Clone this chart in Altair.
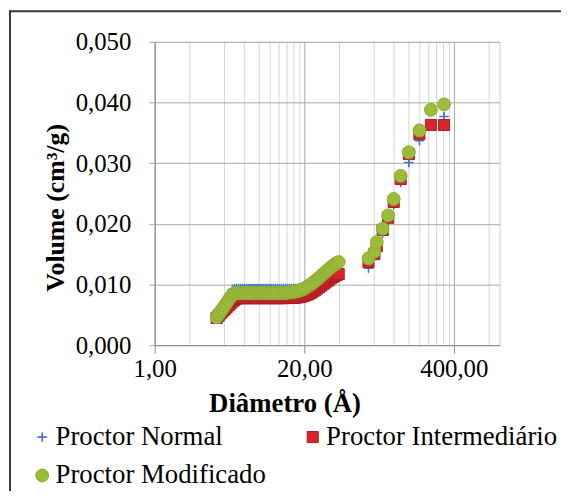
import altair as alt
import pandas as pd

SERIF = "Liberation Serif"

series_names = ["Proctor Normal", "Proctor Intermediário", "Proctor Modificado"]
series_colors = ["#4472C4", "#D7262B", "#9BBB3A"]
series_strokes = ["#4472C4", "#A81E22", "#8DAE35"]

# dense low-diameter region (diameter in Å)
band_diam = [3.461, 3.600, 3.745, 3.896, 4.053, 4.216, 4.385, 4.561, 4.745, 4.935,
             5.134, 5.340, 5.555, 5.779, 6.011, 6.253, 6.505, 6.766, 7.038, 7.321,
             7.616, 7.922, 8.241, 8.572, 8.917, 9.276, 9.649, 10.037, 10.441, 10.861,
             11.298, 11.752, 12.225, 12.717, 13.228, 13.760, 14.314, 14.890, 15.488,
             16.111, 16.759, 17.434, 18.135, 18.864, 19.623, 20.413, 21.234, 22.088,
             22.976, 23.900, 24.842, 25.842, 26.881, 27.963, 29.088, 30.257, 31.474,
             32.740, 34.056, 35.425, 36.850, 38.332, 39.874]
normal_band = [0.00474, 0.00529, 0.00584, 0.00641, 0.00700, 0.00758, 0.00815, 0.00868,
               0.00918, 0.00930, 0.00932,
               0.00932, 0.00932, 0.00932, 0.00932, 0.00932, 0.00932, 0.00932, 0.00932,
               0.00932, 0.00932, 0.00932, 0.00932, 0.00932, 0.00932, 0.00932, 0.00932,
               0.00932, 0.00932, 0.00932, 0.00932, 0.00932, 0.00932, 0.00932, 0.00932,
               0.00932,
               0.00932, 0.00932, 0.00932, 0.00932, 0.00934, 0.00938, 0.00943, 0.00949,
               0.00955, 0.00964, 0.00974, 0.00988, 0.01005, 0.01025, 0.01046, 0.01070,
               0.01095, 0.01123, 0.01152, 0.01180, 0.01209, 0.01238, 0.01266, 0.01290,
               0.01315, 0.01330, 0.01342]
inter_band = [0.00449, 0.00486, 0.00523, 0.00556, 0.00588, 0.00621, 0.00654, 0.00686,
              0.00719, 0.00745, 0.00768,
              0.00776, 0.00776, 0.00776, 0.00776, 0.00776, 0.00776, 0.00776, 0.00776,
              0.00776, 0.00776, 0.00776, 0.00776, 0.00776, 0.00776, 0.00776, 0.00776,
              0.00776, 0.00776, 0.00776, 0.00776, 0.00776, 0.00776, 0.00776, 0.00776,
              0.00776,
              0.00784, 0.00784, 0.00784, 0.00784, 0.00784, 0.00788, 0.00792, 0.00800,
              0.00809, 0.00820, 0.00833, 0.00849, 0.00866, 0.00886, 0.00907, 0.00931,
              0.00956, 0.00980, 0.01005, 0.01029, 0.01054, 0.01078, 0.01103, 0.01124,
              0.01144, 0.01160, 0.01172]
modif_band = [0.00458, 0.00505, 0.00552, 0.00599, 0.00646, 0.00693, 0.00740, 0.00787,
              0.00833, 0.00852, 0.00858,
              0.00858, 0.00858, 0.00858, 0.00858, 0.00858, 0.00858, 0.00858, 0.00858,
              0.00858, 0.00858, 0.00858, 0.00858, 0.00858, 0.00858, 0.00858, 0.00858,
              0.00858, 0.00858, 0.00858, 0.00858, 0.00858, 0.00858, 0.00858, 0.00858,
              0.00858,
              0.00866, 0.00870, 0.00874, 0.00878, 0.00882, 0.00890, 0.00899, 0.00910,
              0.00923, 0.00942, 0.00964, 0.00984, 0.01005, 0.01029, 0.01054, 0.01082,
              0.01111, 0.01139, 0.01168, 0.01196, 0.01225, 0.01254, 0.01283, 0.01308,
              0.01332, 0.01352, 0.01370]

# sparse large-diameter points
cluster_diam = [72.4, 81.5, 85.5, 96.2, 107.4, 120.0, 138.0, 162.6, 200.7, 252.6, 328.6]
normal_cluster = [0.0127, 0.0146, 0.0159, 0.0184, 0.0205, 0.0231, 0.0268, 0.0301, 0.0337, 0.0362, 0.0377]
inter_cluster = [0.0137, 0.0150, 0.0163, 0.0190, 0.0210, 0.0236, 0.0274, 0.0315, 0.0348, 0.0363, 0.0363]
modif_cluster = [0.0143, 0.0154, 0.0170, 0.0192, 0.0214, 0.0241, 0.0279, 0.0318, 0.0354, 0.0388, 0.0397]

x_major = [1, 20, 400]
x_grid = [1, 2, 4, 6, 8, 10, 12, 14, 16, 18, 20, 40, 80, 120, 160, 200, 240, 280,
          320, 360, 400, 800]
y_ticks = [0.0, 0.01, 0.02, 0.03, 0.04, 0.05]

rows = []
for name, band, clus in [(series_names[0], normal_band, normal_cluster),
                         (series_names[1], inter_band, inter_cluster),
                         (series_names[2], modif_band, modif_cluster)]:
    for d, v in zip(band_diam, band):
        rows.append({"serie": name, "d": d, "v": v})
    for d, v in zip(cluster_diam, clus):
        rows.append({"serie": name, "d": d, "v": v})
df = pd.DataFrame(rows)
df["ord"] = range(len(df))

PLUS = "M-1,-0.06H-0.06V-1H0.06V-0.06H1V0.06H0.06V1H-0.06V0.06H-1Z"

W, H = 348, 306
major_test = " || ".join(f"datum.value == {m}" for m in x_major)

x_axis = alt.Axis(
    values=x_grid,
    labelExpr=f"({major_test}) ? replace(format(datum.value, '.2f'), '.', ',') : ''",
    labelOverlap=False, labelFlush=False,
    labelFont=SERIF, labelFontSize=25, labelColor="black", labelPadding=4,
    tickSize=8, tickColor="#8c8c8c",
    tickOpacity={"condition": {"test": major_test, "value": 1}, "value": 0},
    gridColor={"condition": {"test": major_test, "value": "#a8a8a8"}, "value": "#d6d6d6"},
    domainColor="#8c8c8c",
    title="Diâmetro (Å)", titleFont=SERIF, titleFontSize=27, titleFontWeight="bold",
    titleColor="black", titleX=131, titleY=67, titleAlign="center", titleBaseline="alphabetic",
)
y_axis = alt.Axis(
    values=y_ticks,
    labelExpr="replace(format(datum.value, '.3f'), '.', ',')",
    labelFlush=False, labelOverlap=False,
    labelFont=SERIF, labelFontSize=25, labelColor="black", labelPadding=18,
    tickSize=6, tickColor="#a8a8a8", gridColor="#a8a8a8", domainColor="#8c8c8c",
    title="Volume (cm³/g)", titleFont=SERIF, titleFontSize=26, titleFontWeight="bold",
    titleColor="black", titleX=-92, titleY=167, titleAngle=-90, titleAlign="center",
    titleBaseline="alphabetic",
)

leg = alt.Legend(
    title=None, orient="none", legendX=-127, legendY=385, direction="horizontal",
    columns=2, columnPadding=33, rowPadding=11, labelFont=SERIF, labelFontSize=27,
    labelColor="black", labelOffset=0, labelLimit=0, symbolStrokeWidth=1, padding=0,
)

points = alt.Chart(df).mark_point(filled=True, opacity=1, strokeWidth=1).encode(
    x=alt.X("d:Q", scale=alt.Scale(type="log", domain=[1, 1000], nice=False), axis=x_axis),
    y=alt.Y("v:Q", scale=alt.Scale(domain=[0, 0.05], nice=False), axis=y_axis),
    color=alt.Color("serie:N", legend=leg,
                    scale=alt.Scale(domain=series_names, range=series_colors)),
    stroke=alt.Stroke("serie:N", legend=leg,
                      scale=alt.Scale(domain=series_names, range=series_strokes)),
    shape=alt.Shape("serie:N", legend=leg,
                    scale=alt.Scale(domain=series_names, range=[PLUS, "square", "circle"])),
    size=alt.Size("serie:N", legend=leg,
                  scale=alt.Scale(domain=series_names, range=[81, 169, 100])),
    order=alt.Order("ord:Q"),
)

frame = pd.DataFrame({"k": [0]})
left_border = alt.Chart(frame).mark_rule(color="#3a3a3a", strokeWidth=2).encode(
    x=alt.value(-146), y=alt.value(-32), y2=alt.value(470))
top_border = alt.Chart(frame).mark_rule(color="#3a3a3a", strokeWidth=2).encode(
    x=alt.value(-147), x2=alt.value(430), y=alt.value(-31))

chart = alt.layer(points, left_border, top_border).properties(
    width=W, height=H,
    autosize=alt.AutoSizeParams(type="none"),
    padding={"left": 148, "top": 32, "right": 62, "bottom": 145},
    background="white",
).configure_view(stroke="#cfcfcf")

chart.save("out.html", embed_options={"renderer": "svg", "actions": False})
